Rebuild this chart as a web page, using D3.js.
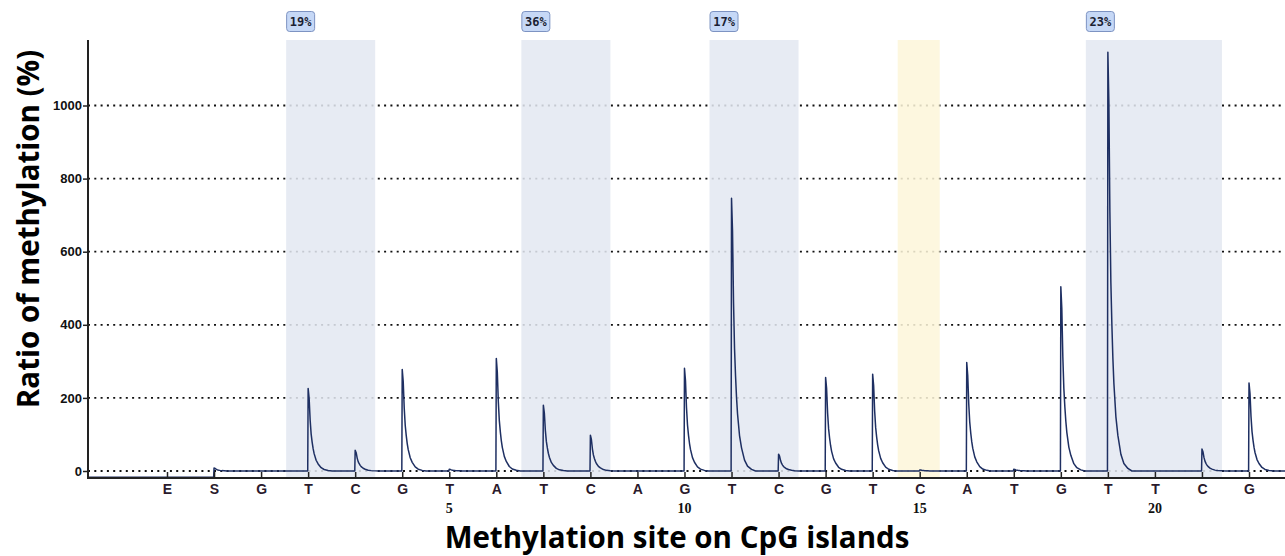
<!DOCTYPE html>
<html>
<head>
<meta charset="utf-8">
<script src="https://cdn.jsdelivr.net/npm/d3@7"></script>
<style>
  html, body { margin: 0; padding: 0; background: #fff; }
  svg { display: block; }
</style>
</head>
<body>
<svg id="chart" width="1285" height="556"></svg>
<script>
  // ── Data ────────────────────────────────────────────────────────────────────
  // dispensation order; the first one (E) sits at position -1
  const SITES       = ["E","S","G","T","C","G","T","A","T","C","A","G","T","C","G","T","C","A","T","G","T","T","C","G"];
  const FIRST_POS   = -1;
  // peak height read at each dispensation
  const PEAK_HEIGHT = [0, 8, 0, 226, 57, 278, 5, 308, 180, 98, 0, 281, 746, 46, 256, 265, 3, 297, 5, 504, 1146, 0, 60, 241];
  const START_LEVEL = -17;   // trace level before the first signal

  // shaded CpG regions (first / last dispensation position) and their labels
  const REGION_FROM  = [2, 7, 11, 15, 19];
  const REGION_TO    = [3, 8, 12, 15, 21];
  const REGION_LABEL = ["19%", "36%", "17%", null, "23%"];
  const REGION_KIND  = ["cpg", "cpg", "cpg", "ctrl", "cpg"];

  const Y_TICKS   = [0, 200, 400, 600, 800, 1000];
  const POS_TICKS = [5, 10, 15, 20];

  // ── Layout ──────────────────────────────────────────────────────────────────
  const W = 1285, H = 556;
  const AXIS_X   = 88;
  const PLOT_TOP = 40;
  const AXIS_Y   = 478;
  const PAD_L    = 22, PAD_R = 20;   // region padding around the sites (px)

  // decay shape of a single pyrogram peak: [px after rise, fraction of height]
  const PROFILE = [[0,1],[1,0.88],[2,0.62],[3,0.45],[4,0.35],[5,0.27],[6,0.21],
                   [8,0.13],[10,0.085],[13,0.04],[16,0.018],[20,0.006],[24,0]];

  const svg = d3.select("#chart");

  const positions = SITES.map((s, i) => FIRST_POS + i);
  const x = d3.scaleLinear().domain([-1, 22]).range([167, 1249]);
  const y = d3.scaleLinear().domain([0, 1000]).range([471, 105.5]);

  // ── Grid (under the shading) ────────────────────────────────────────────────
  svg.append("g").selectAll("line").data(Y_TICKS).join("line")
    .attr("x1", AXIS_X).attr("x2", W)
    .attr("y1", d => y(d)).attr("y2", d => y(d))
    .attr("stroke", "#111").attr("stroke-width", 1.8)
    .attr("stroke-dasharray", "2,4.3");

  // ── Shaded regions ──────────────────────────────────────────────────────────
  const regions = REGION_FROM.map((f, i) => ({
    from: f, to: REGION_TO[i], label: REGION_LABEL[i], kind: REGION_KIND[i]
  }));

  svg.append("g").selectAll("rect").data(regions).join("rect")
    .attr("x", d => x(d.from) - PAD_L)
    .attr("y", PLOT_TOP)
    .attr("width", d => x(d.to) + PAD_R - (x(d.from) - PAD_L))
    .attr("height", AXIS_Y - PLOT_TOP)
    .attr("fill", d => d.kind === "ctrl" ? "#fdf6da" : "#e3e8f1")
    .attr("fill-opacity", 0.86);

  const lab = svg.append("g").selectAll("g").data(regions.filter(d => d.label)).join("g")
    .attr("transform", d => `translate(${x(d.from) - PAD_L + 0.5}, 11.5)`);
  lab.append("rect")
    .attr("width", 28).attr("height", 20).attr("rx", 3)
    .attr("fill", "#c6d8f6").attr("stroke", "#7d93c2").attr("stroke-width", 1);
  lab.append("text")
    .attr("x", 14).attr("y", 14.5)
    .attr("text-anchor", "middle")
    .attr("font-family", "'DejaVu Sans Mono', monospace")
    .attr("font-size", "12px")
    .attr("font-weight", "bold")
    .attr("fill", "#1b1f33")
    .text(d => d.label);

  // ── Trace ───────────────────────────────────────────────────────────────────
  const pts = [[AXIS_X, y(START_LEVEL)]];
  let level = START_LEVEL;
  positions.forEach((p, i) => {
    const h = PEAK_HEIGHT[i];
    if (!h) return;
    const px = x(p);
    pts.push([px - 0.4, y(level)]);
    PROFILE.forEach(([dx, f]) => pts.push([px + dx, y(h * f)]));
    level = 0;
  });
  pts.push([W, y(0)]);

  svg.append("path")
    .attr("d", d3.line()(pts))
    .attr("fill", "none")
    .attr("stroke", "#1e2f62")
    .attr("stroke-width", 1.5)
    .attr("stroke-linejoin", "round");

  // ── Y axis ──────────────────────────────────────────────────────────────────
  const yAxisG = svg.append("g")
    .attr("transform", `translate(${AXIS_X},0)`)
    .call(d3.axisLeft(y).tickValues(Y_TICKS).tickFormat(d3.format("d"))
      .tickSize(5).tickPadding(1));
  yAxisG.select(".domain").remove();
  yAxisG.selectAll(".tick line").attr("stroke", "#222").attr("stroke-width", 1.5);
  yAxisG.selectAll(".tick text")
    .attr("font-family", "'Liberation Sans', Arial, sans-serif")
    .attr("font-weight", "bold")
    .attr("font-size", "13px")
    .attr("fill", "#111");
  svg.append("line")
    .attr("x1", AXIS_X).attr("x2", AXIS_X)
    .attr("y1", PLOT_TOP).attr("y2", AXIS_Y + 1)
    .attr("stroke", "#222").attr("stroke-width", 2);

  // ── X axis (dispensation letters) ───────────────────────────────────────────
  const xAxisG = svg.append("g")
    .attr("transform", `translate(0,${AXIS_Y})`)
    .call(d3.axisBottom(x).tickValues(positions)
      .tickFormat(p => SITES[p - FIRST_POS]).tickSize(-6).tickPadding(6));
  xAxisG.select(".domain").remove();
  xAxisG.selectAll(".tick line").attr("stroke", "#222").attr("stroke-width", 1.5);
  xAxisG.selectAll(".tick text")
    .attr("font-family", "'Liberation Sans', Arial, sans-serif")
    .attr("font-weight", "bold")
    .attr("font-size", "14px")
    .attr("fill", "#2a1a2c");
  svg.append("line")
    .attr("x1", AXIS_X).attr("x2", W)
    .attr("y1", AXIS_Y).attr("y2", AXIS_Y)
    .attr("stroke", "#222").attr("stroke-width", 2);

  // position numbers
  svg.append("g").selectAll("text").data(POS_TICKS).join("text")
    .attr("x", d => x(d))
    .attr("y", 512.5)
    .attr("text-anchor", "middle")
    .attr("font-family", "'Liberation Serif', serif")
    .attr("font-weight", "bold")
    .attr("font-size", "14px")
    .attr("fill", "#111")
    .text(d => d);

  // ── Axis titles ─────────────────────────────────────────────────────────────
  svg.append("text")
    .attr("x", 677).attr("y", 548)
    .attr("text-anchor", "middle")
    .attr("font-family", "'Open Sans', sans-serif")
    .attr("font-weight", "bold")
    .attr("font-size", "29.5px")
    .attr("fill", "#000")
    .text("Methylation site on CpG islands");

  svg.append("text")
    .attr("transform", "translate(39,229) rotate(-90)")
    .attr("text-anchor", "middle")
    .attr("font-family", "'Open Sans', sans-serif")
    .attr("font-weight", "bold")
    .attr("font-size", "29.5px")
    .attr("fill", "#000")
    .text("Ratio of methylation (%)");
</script>
</body>
</html>
